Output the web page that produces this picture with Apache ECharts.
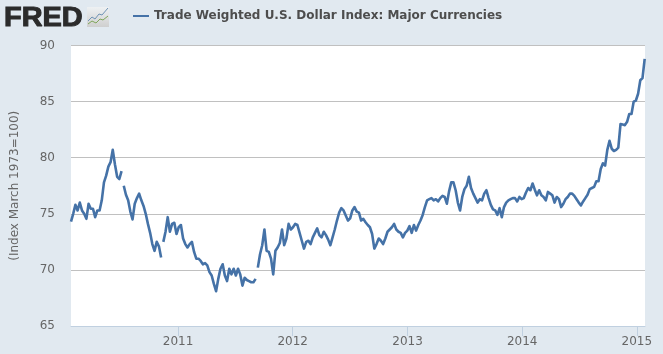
<!DOCTYPE html>
<html>
<head>
<meta charset="utf-8">
<style>html,body{margin:0;padding:0;background:#E1E9F0}#c{width:663px;height:354px}</style>
<script src="https://cdn.jsdelivr.net/npm/echarts@6/dist/echarts.min.js"></script>
</head>
<body>
<div id="c"></div>
<script>
const seriesName = 'Trade Weighted U.S. Dollar Index: Major Currencies';
const axisTitle = '(Index March 1973=100)';
const logoText = 'FRED';
const firstWeek = '2010-01-25';
const axisStart = '2010-01-25';
const axisEnd = '2015-01-27';
// weekly readings, in order, from firstWeek
const values2010 = [74.3,75,75.8,75.3,76,75.3,75,74.55,75.9,75.45,75.45,74.7,75.3,75.3,76.2,77.8,78.4,79.2,79.6,80.7,79.4,78.3,78.1,78.8,77.5,76.7,76.2,75.2,74.5,75.9,76.4,76.8,76.2,75.7,75,74.1,73.3,72.3,71.7,72.5,72.1,71.1,72.5,73.4,74.7,73.4,74.1,74.2];
const values2011 = [73.2,73.8,74,72.8,72.3,72,72.3,72.5,71.6,71,71,70.8,70.5,70.6,70.4,69.8,69.5,68.75,68.1,69.2,70.1,70.5,69.5,69,70.1,69.6,70.1,69.5,70.1,69.6,68.6,69.3,69.1,69,68.9,68.9,69.2,70.2,71.4,72.2,73.6,71.7,71.6,71,69.6,71.7,72,72.4,73.6,72.2,72.8,74.1];
const values2012 = [73.6,73.8,74.1,74,73.3,72.6,71.9,72.5,72.6,72.3,72.9,73.3,73.7,73.1,72.9,73.4,73.1,72.7,72.2,72.9,73.6,74.4,75.1,75.5,75.3,74.85,74.4,74.6,75.3,75.6,75.2,75.1,74.4,74.55,74.25,74,73.8,73.2,71.9,72.3,72.8,72.6,72.3,72.8,73.4,73.6,73.8,74.1,73.6,73.4,73.3,72.9];
const values2013 = [73.3,73.5,73.9,73.3,74,73.5,74,74.4,74.9,75.6,76.2,76.3,76.4,76.2,76.3,76.1,76.4,76.6,76.5,75.9,77,77.8,77.8,77.1,76,75.3,76.5,77.2,77.5,78.3,77.3,76.8,76.4,76,76.3,76.2,76.8,77.1,76.4,75.8,75.4,75.3,74.9,75.5,74.7,75.6,76,76.2];
const values2014 = [76.3,76.4,76.4,76.1,76.5,76.3,76.4,76.9,77.3,77.1,77.7,77.15,76.65,77.1,76.65,76.5,76.2,76.95,76.8,76.65,76,76.5,76.3,75.6,75.9,76.3,76.5,76.8,76.8,76.6,76.3,76,75.75,76.1,76.4,76.7,77.2,77.3,77.4,77.9,77.9,79,79.5,79.3,80.7,81.5,80.8,80.6,80.7,80.9,83,82.95,82.9];
const values2015 = [83.2,83.9,83.9,85,85.1,85.7,86.9,87.1,88.8];
const gapsAfterWeek = [23,41,84];
const yTicks = {min:65,max:90,step:5};

const values = [].concat(values2010,values2011,values2012,values2013,values2014,values2015);
const DAY = 86400000, t0 = Date.parse(firstWeek+'T00:00:00Z');
const lineData = [];
values.forEach((v,i)=>{
  lineData.push([t0+i*7*DAY,v]);
  if(gapsAfterWeek.includes(i)) lineData.push([t0+(i+0.5)*7*DAY,null]);
});
const blue = '#4572A7', axisBlue = '#C0D0E0', grey = '#666666';
const chart = echarts.init(document.getElementById('c'),null,{renderer:'canvas'});
chart.setOption({
  animation:false,
  backgroundColor:'#E1E9F0',
  textStyle:{fontFamily:'"DejaVu Sans",Verdana,sans-serif'},
  grid:{left:71,right:18,top:45.5,bottom:28,show:true,backgroundColor:'#FFFFFF',borderWidth:0,outerBoundsMode:'none',containLabel:false},
  legend:{
    show:true,left:133,top:10,padding:0,itemWidth:16,itemHeight:2,itemGap:0,
    icon:'rect',
    data:[seriesName],
    textStyle:{color:'#4D4D4D',fontSize:12,fontWeight:'bold',fontFamily:'"DejaVu Sans",Verdana,sans-serif',padding:[0,0,0,0]}
  },
  xAxis:{
    type:'time',
    min:Date.parse(axisStart+'T00:00:00Z'),
    max:Date.parse(axisEnd+'T00:00:00Z'),
    splitNumber:5,
    axisLine:{show:true,lineStyle:{color:axisBlue,width:1}},
    axisTick:{show:true,length:10,lineStyle:{color:axisBlue,width:1}},
    minorTick:{show:false},
    splitLine:{show:false},
    axisLabel:{
      color:grey,fontSize:12,margin:10,hideOverlap:false,showMinLabel:false,showMaxLabel:false,
      formatter:(val)=>{const d=new Date(val);return (d.getUTCMonth()===0&&d.getUTCDate()===1)||(d.getMonth()===0&&d.getDate()===1)?String(d.getFullYear()):'';}
    }
  },
  yAxis:{
    type:'value',min:yTicks.min,max:yTicks.max,interval:yTicks.step,
    name:axisTitle,nameLocation:'middle',nameGap:50,
    nameTextStyle:{color:grey,fontSize:12},
    axisLine:{show:false},axisTick:{show:false},
    axisLabel:{color:grey,fontSize:12,margin:16},
    splitLine:{show:true,lineStyle:{color:'#C0C0C0',width:1}}
  },
  series:[{
    name:seriesName,type:'line',data:lineData,showSymbol:false,connectNulls:false,
    lineStyle:{color:blue,width:2.6,join:'round'},itemStyle:{color:blue},
    emphasis:{disabled:true},silent:true
  }],
  graphic:[
    {type:'text',x:4,y:5,scaleX:1.07,silent:true,style:{text:logoText,fill:'#2B2B2B',stroke:'#2B2B2B',lineWidth:1,font:'bold 27px "Liberation Sans",Arial,sans-serif',letterSpacing:1.5}},
    {type:'rect',silent:true,shape:{x:87,y:7,width:22,height:20},style:{fill:new echarts.graphic.LinearGradient(0,0,0,1,[{offset:0,color:'#EEF1F3'},{offset:1,color:'#CFCFCF'}])}},
    {type:'polyline',silent:true,shape:{points:[[88,21],[92,17],[95,19],[99,14],[102,15],[108,8]]},style:{stroke:'#6F93B5',lineWidth:1,fill:null}},
    {type:'polyline',silent:true,shape:{points:[[88,24],[92,21],[96,23],[100,19],[103,20],[108,16]]},style:{stroke:'#7FA65A',lineWidth:1,fill:null}}
  ]
});
</script>
</body>
</html>
